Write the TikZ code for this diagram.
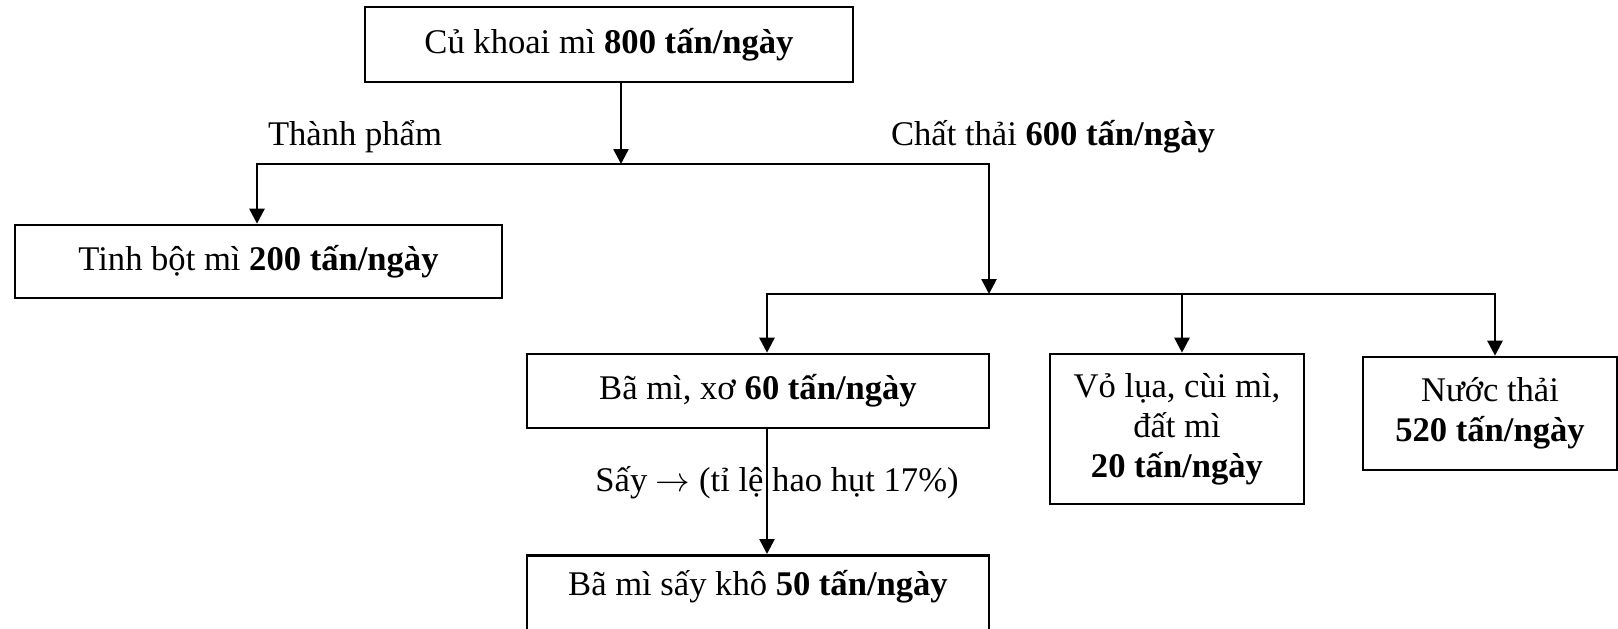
\documentclass[tikz,border=0pt]{standalone}
\usepackage{fontspec}
\setmainfont{Liberation Serif}
\usetikzlibrary{arrows.meta}

\tikzset{
  box/.style={draw, line width=1.3pt, align=center, inner sep=0pt},
  arr/.style={-{Triangle[length=7.5pt,width=7.5pt]}, line width=1.3pt},
  nhan/.style={inner sep=0pt}
}

\begin{document}
\begin{tikzpicture}[x=0.5pt,y=0.5pt,yscale=-1,font=\fontsize{17.3}{20}\selectfont]
\useasboundingbox (0,0) rectangle (1618,628);

%Shape: Rectangle [cu]
\node[box, minimum width=244pt, minimum height=37.5pt] (cu) at (609,44.5) {Củ khoai mì \textbf{800 tấn/ngày}};
%Shape: Rectangle [tinh]
\node[box, minimum width=243.5pt, minimum height=36.5pt] (tinh) at (258.5,261.5) {Tinh bột mì \textbf{200 tấn/ngày}};
%Shape: Rectangle [xo]
\node[box, minimum width=231pt, minimum height=37pt] (xo) at (758,391) {Bã mì, xơ \textbf{60 tấn/ngày}};
%Shape: Rectangle [vo]
\node[box, minimum width=127pt, minimum height=75pt] (vo) at (1177,429) {Vỏ lụa, cùi mì,\\ đất mì\\ \textbf{20 tấn/ngày}};
%Shape: Rectangle [nuoc]
\node[box, minimum width=127pt, minimum height=56.5pt] (nuoc) at (1490,413.5) {Nước thải\\ \textbf{520 tấn/ngày}};
%Shape: Rectangle [kho]
\node[box, anchor=north, minimum width=231pt, inner ysep=8pt, text height=12pt, text depth=40pt] (kho) at (758,554) {Bã mì sấy khô \textbf{50 tấn/ngày}};

% Text Node
\node[nhan] (tp) at (355,137) {Thành phẩm};
% Text Node
\node[nhan] (ct) at (1053,137) {Chất thải \textbf{600 tấn/ngày}};
% Text Node
\node[nhan] (say) at (777,483) {Sấy $\rightarrow$ (tỉ lệ hao hụt 17\%)};

\coordinate (t1) at (621,164);
\coordinate (tl) at (257,164);
\coordinate (tr) at (989,164);
\coordinate (c1) at (989,294);
\coordinate (bl) at (767,294);
\coordinate (bm) at (1182,294);
\coordinate (br) at (1495,294);

%Straight Lines
\draw[arr] (cu.south -| t1) -- (t1);
\draw[arr] (t1) -- (tl) -- (tl |- tinh.north);
\draw[arr] (t1) -- (tr) -- (c1);
%Straight Lines
\draw[arr] (c1) -- (bl) -- (bl |- xo.north);
\draw[arr] (c1) -- (br) -- (br |- nuoc.north);
\draw[arr] (bm) -- (bm |- vo.north);
\draw[arr] (xo.south -| bl) -- (bl |- kho.north);

\end{tikzpicture}
\end{document}
